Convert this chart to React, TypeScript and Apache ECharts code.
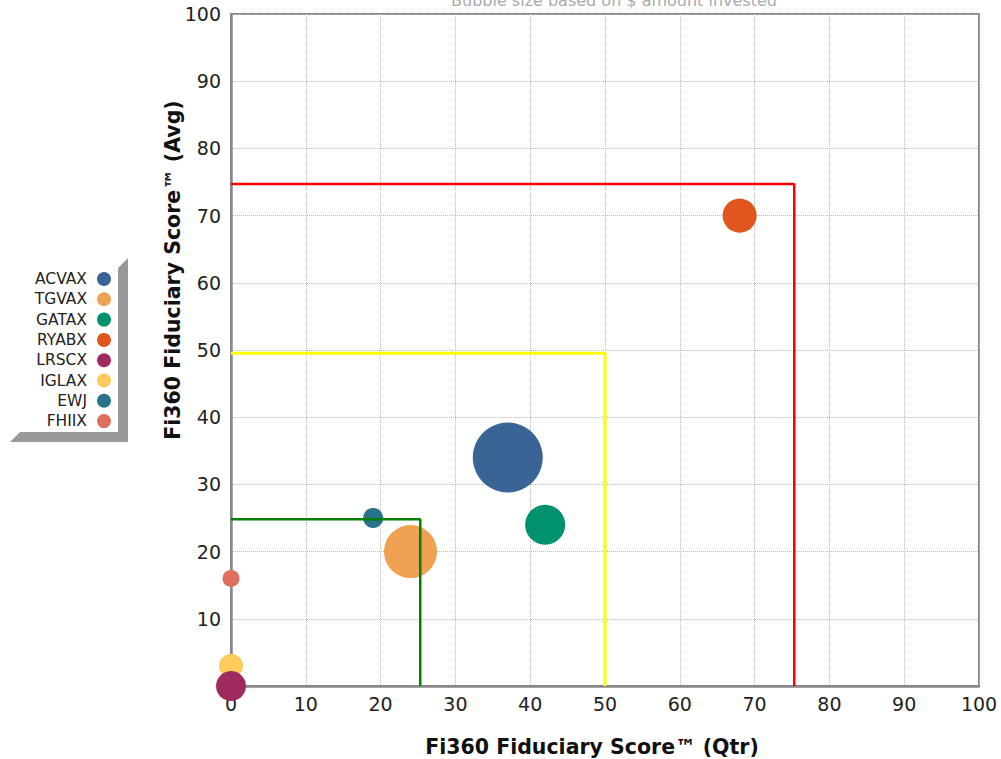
import React, { useEffect, useRef } from "react";
import * as echarts from "echarts";

const funds = ["ACVAX", "TGVAX", "GATAX", "RYABX", "LRSCX", "IGLAX", "EWJ", "FHIIX"];
const qtrScore = [37, 24, 42, 68, 0, 0, 19, 0];
const avgScore = [34, 20, 24, 70, 0, 3, 25, 16];
const invested = [490, 281, 160, 116, 90, 58, 40, 29];
const colors = ["#3a6496", "#efa251", "#00916e", "#e0561e", "#9e2a5e", "#ffcc5c", "#26738a", "#de6e5e"];

const xTicks = [0, 10, 20, 30, 40, 50, 60, 70, 80, 90, 100];
const yTicks = [0, 10, 20, 30, 40, 50, 60, 70, 80, 90, 100];

const redBox = [[0, 74.7], [75.3, 74.7], [75.3, 0]];
const yellowBox = [[0, 49.5], [50, 49.5], [50, 0]];
const greenBox = [[0, 24.8], [25.3, 24.8], [25.3, 0]];

const FONT = "'DejaVu Sans', Verdana, sans-serif";

export default function App() {
  const ref = useRef<HTMLDivElement>(null);
  useEffect(() => {
    if (!ref.current) return;
    const chart = echarts.init(ref.current, null, { renderer: "svg" });
    const scatterSeries = funds.map((name, i) => ({
      name,
      type: "scatter",
      z: name === "LRSCX" ? 3 : 2,
      data: [[qtrScore[i], avgScore[i], invested[i]]],
      symbolSize: (d: number[]) => Math.sqrt(d[2] * 10),
      itemStyle: { color: colors[i], opacity: 1 },
      emphasis: { disabled: true },
    }));
    const box = (data: number[][], color: string, width: number) => ({
      type: "line",
      data,
      symbol: "none",
      z: 4,
      clip: false,
      lineStyle: { color, width },
      silent: true,
    });
    chart.setOption({
      animation: false,
      textStyle: { fontFamily: FONT },
      graphic: [
        {
          type: "polygon",
          z: -1,
          shape: {
            points: [[118, 268], [128, 258], [128, 442], [10, 442], [20, 432], [118, 432]],
          },
          style: { fill: "#999999" },
        },
        {
          type: "text",
          x: 614,
          y: 8,
          style: {
            text: "Bubble size based on $ amount invested",
            fill: "#aaaaaa",
            font: `16px ${FONT}`,
            align: "center",
            verticalAlign: "bottom",
          },
        },
      ],
      legend: {
        orient: "vertical",
        right: 890,
        top: 271,
        padding: 0,
        align: "right",
        icon: "circle",
        itemWidth: 14,
        itemHeight: 14,
        itemGap: 4.3,
        data: funds,
        textStyle: { fontSize: 15.5, color: "#222", fontFamily: FONT, padding: [0, 5, 0, 0] },
      },
      grid: {
        left: 231,
        right: 22,
        top: 14,
        bottom: 73,
        show: true,
        borderColor: "#888",
        borderWidth: 2,
        containLabel: false,
        outerBoundsMode: "none",
      },
      xAxis: {
        type: "value",
        min: xTicks[0],
        max: xTicks[xTicks.length - 1],
        interval: 10,
        name: "Fi360 Fiduciary Score™ (Qtr)",
        nameLocation: "middle",
        nameGap: 50,
        nameMoveOverlap: false,
        nameTextStyle: { fontSize: 20.5, fontWeight: "bold", color: "#111", fontFamily: FONT, padding: [0, 26, 0, 0] },
        axisLine: { show: true, lineStyle: { color: "#888", width: 2.5 } },
        axisTick: { show: false },
        axisLabel: { fontSize: 19, color: "#222", margin: 8, fontFamily: FONT },
        splitLine: { show: true, lineStyle: { color: "#bbb", type: "dotted", width: 1 } },
      },
      yAxis: {
        type: "value",
        min: yTicks[0],
        max: yTicks[yTicks.length - 1],
        interval: 10,
        name: "Fi360 Fiduciary Score™ (Avg)",
        nameLocation: "middle",
        nameGap: 48,
        nameMoveOverlap: false,
        nameTextStyle: { fontSize: 20.5, fontWeight: "bold", color: "#111", fontFamily: FONT, padding: [0, 0, 0, 160] },
        axisLine: { show: true, lineStyle: { color: "#888", width: 2.5 } },
        axisTick: { show: false },
        axisLabel: {
          fontSize: 19,
          color: "#222",
          margin: 10,
          fontFamily: FONT,
          formatter: (v: number) => (v === 0 ? "" : String(v)),
        },
        splitLine: { show: true, lineStyle: { color: "#bbb", type: "dotted", width: 1 } },
      },
      series: [
        ...scatterSeries,
        box(redBox, "#ff0000", 2.5),
        box(yellowBox, "#ffff00", 3),
        box(greenBox, "#008000", 2.5),
      ],
    });
    return () => chart.dispose();
  }, []);
  return (
    <div
      ref={ref}
      style={{ position: "fixed", left: 0, top: 0, width: 1001, height: 759, background: "#fff" }}
    />
  );
}
